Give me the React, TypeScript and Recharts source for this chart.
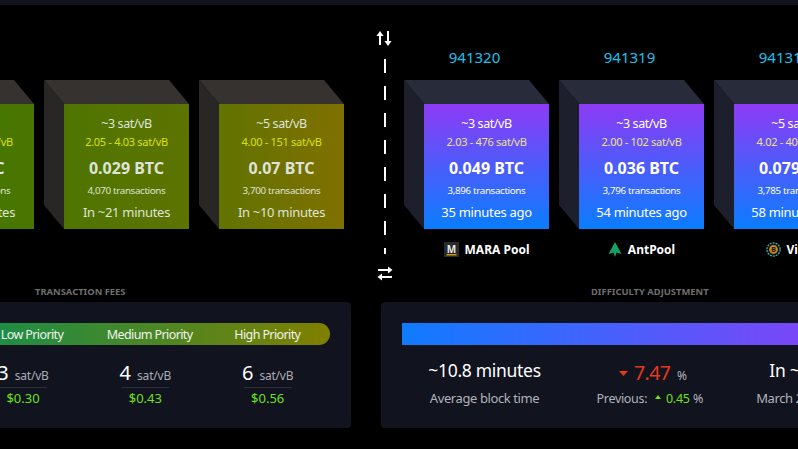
import { Bar, BarChart, XAxis, YAxis } from 'recharts'

const FONT = '"Noto Sans", sans-serif'

// pending blocks, left of the divider
const pendingFee = ['~3 sat/vB', '~3 sat/vB', '~5 sat/vB']
const pendingRange = ['2.00 - 3.04 sat/vB', '2.05 - 4.03 sat/vB', '4.00 - 151 sat/vB']
const pendingBtc = ['0.02 BTC', '0.029 BTC', '0.07 BTC']
const pendingTx = ['4,012 transactions', '4,070 transactions', '3,700 transactions']
const pendingEta = ['In ~32 minutes', 'In ~21 minutes', 'In ~10 minutes']

// mined blocks, right of the divider
const minedHeight = ['941320', '941319', '941318']
const minedFee = ['~3 sat/vB', '~3 sat/vB', '~5 sat/vB']
const minedRange = ['2.03 - 476 sat/vB', '2.00 - 102 sat/vB', '4.02 - 400 sat/vB']
const minedBtc = ['0.049 BTC', '0.036 BTC', '0.079 BTC']
const minedTx = ['3,896 transactions', '3,796 transactions', '3,785 transactions']
const minedAge = ['35 minutes ago', '54 minutes ago', '58 minutes ago']
const minedPool = ['MARA Pool', 'AntPool', 'ViaBTC']

// fee panel
const priorityNames = ['Low Priority', 'Medium Priority', 'High Priority']
const prioritySats = [3, 4, 6]
const priorityUsd = ['$0.30', '$0.43', '$0.56']

// difficulty panel
const difficultyProgress = 100
const difficultyHeadline = ['~10.8 minutes', '7.47', 'In ~10 days']
const difficultyCaption = ['Average block time', '0.45', 'March 28 at 5:00 PM']

const pendingData = pendingFee.map((fee, i) => ({
  name: pendingEta[i],
  size: 1,
  fee,
  range: pendingRange[i],
  btc: pendingBtc[i],
  tx: pendingTx[i],
  time: pendingEta[i],
}))

const minedData = minedFee.map((fee, i) => ({
  name: minedHeight[i],
  size: 1,
  fee,
  range: minedRange[i],
  btc: minedBtc[i],
  tx: minedTx[i],
  time: minedAge[i],
  height: minedHeight[i],
  pool: minedPool[i],
}))

const priorityData = priorityNames.map((name, i) => ({
  name,
  size: 1,
  sats: prioritySats[i],
  usd: priorityUsd[i],
}))

const difficultyData = difficultyHeadline.map((headline, i) => ({
  name: headline,
  size: 1,
  caption: difficultyCaption[i],
}))

function PoolIcon({ pool }: { pool: string }) {
  if (pool === 'MARA Pool') {
    return (
      <svg width="15" height="15" viewBox="0 0 15 15">
        <rect width="15" height="15" fill="#2a2a2a" />
        <text x="7.5" y="10.5" textAnchor="middle" fontSize="10" fill="#e8e8e8" fontFamily={FONT}>M</text>
        <rect x="2.5" y="12" width="10" height="1.5" fill="#c9941a" />
      </svg>
    )
  }
  if (pool === 'AntPool') {
    return (
      <svg width="14" height="15" viewBox="0 0 14 15">
        <path d="M7 0 L13.5 12 L8.5 10.5 L7 15 L5.5 10.5 L0.5 12 Z" fill="#12a36b" />
      </svg>
    )
  }
  return (
    <svg width="15" height="15" viewBox="0 0 15 15">
      <circle cx="7.5" cy="7.5" r="6.6" fill="#111" stroke="#3aa7a0" strokeWidth="1.4" strokeDasharray="2 1" />
      <circle cx="7.5" cy="7.5" r="4.4" fill="#c98a1c" />
      <text x="7.5" y="10" textAnchor="middle" fontSize="7" fontWeight="700" fill="#111" fontFamily={FONT}>B</text>
    </svg>
  )
}

function BlockShape(props: any) {
  const { x, y, width, height, payload } = props
  const mined = !!payload.pool
  const cx = x + width / 2
  const depthX = 20
  const depthY = 24
  return (
    <g fontFamily={FONT} textAnchor="middle" fill={mined ? '#ffffff' : '#dfe3da'}>
      <polygon
        points={`${x},${y} ${x + width},${y} ${x + width - depthX},${y - depthY} ${x - depthX},${y - depthY}`}
        fill={mined ? '#272b3a' : '#36322f'}
      />
      <polygon
        points={`${x},${y} ${x},${y + height} ${x - depthX},${y + height - depthY} ${x - depthX},${y - depthY}`}
        fill={mined ? '#1d202c' : '#292725'}
      />
      <rect x={x} y={y} width={width} height={height} fill={mined ? 'url(#minedFace)' : 'url(#pendingFace)'} />
      <text x={cx} y={y + 24} fontSize={12.5} letterSpacing={-0.4}>{payload.fee}</text>
      <text x={cx} y={y + 42} fontSize={11} letterSpacing={-0.3} fill={mined ? '#f0e08c' : '#dde000'}>{payload.range}</text>
      <text x={cx} y={y + 70} fontSize={16} fontWeight={700}>{payload.btc}</text>
      <text x={cx} y={y + 90} fontSize={9.8} letterSpacing={-0.35}>{payload.tx}</text>
      <text x={cx} y={y + 113} fontSize={13} letterSpacing={-0.3}>{payload.time}</text>
      {mined && (
        <text x={cx - 12} y={y - 41} fontSize={15} fill="#1ec0ee">{payload.height}</text>
      )}
      {mined && (
        <foreignObject x={cx - 77} y={y + 135} width={154} height={20}>
          <div
            style={{
              display: 'flex',
              justifyContent: 'center',
              alignItems: 'center',
              gap: 6,
              height: 20,
              fontFamily: FONT,
              fontSize: 12,
              fontWeight: 700,
              color: '#fff',
              whiteSpace: 'nowrap',
            }}
          >
            <PoolIcon pool={payload.pool} />
            <span>{payload.pool}</span>
          </div>
        </foreignObject>
      )}
    </g>
  )
}

function BlockRow({ data, left, id }: { data: any[]; left: number; id: string }) {
  return (
    <div style={{ position: 'absolute', left, top: 40 }} id={id}>
      <BarChart
        width={475}
        height={230}
        data={data}
        margin={{ top: 64, right: 0, bottom: 41, left: 10 }}
        barCategoryGap={0}
      >
        <defs>
          <linearGradient id="minedFace" x1="0" y1="0" x2="0" y2="1">
            <stop offset="0" stopColor="#8d3bf5" />
            <stop offset="1" stopColor="#0a7dff" />
          </linearGradient>
          <linearGradient id="pendingFace" gradientUnits="userSpaceOnUse" x1="25" y1="0" x2="460" y2="0">
            <stop offset="0" stopColor="#3f7700" />
            <stop offset="0.287" stopColor="#4a7600" />
            <stop offset="0.356" stopColor="#4f7500" />
            <stop offset="0.644" stopColor="#5d7300" />
            <stop offset="0.713" stopColor="#617300" />
            <stop offset="1" stopColor="#7f7000" />
          </linearGradient>
        </defs>
        <XAxis dataKey="name" hide />
        <YAxis domain={[0, 1]} hide />
        <Bar dataKey="size" barSize={125} shape={BlockShape} isAnimationActive={false} />
      </BarChart>
    </div>
  )
}

function GradientBar({ id, width, amount, from, to, radius }: any) {
  return (
    <BarChart
      width={width}
      height={22}
      data={[{ name: id, value: amount }]}
      layout="vertical"
      margin={{ top: 0, right: 0, bottom: 0, left: 0 }}
      barCategoryGap={0}
    >
      <defs>
        <linearGradient id={id} x1="0" y1="0" x2="1" y2="0">
          <stop offset="0" stopColor={from} />
          <stop offset="1" stopColor={to} />
        </linearGradient>
      </defs>
      <XAxis type="number" domain={[0, 100]} hide />
      <YAxis type="category" dataKey="name" hide />
      <Bar dataKey="value" fill={`url(#${id})`} radius={radius} isAnimationActive={false} />
    </BarChart>
  )
}

function PriorityLabel(props: any) {
  const { x, width, payload } = props
  return (
    <text x={x + width / 2} y={16} textAnchor="middle" fontFamily={FONT} fontSize={12.5} letterSpacing={-0.6} fill="#f0f3ee">
      {payload.name}
    </text>
  )
}

function FeeValue(props: any) {
  const { x, width, payload } = props
  const cx = x + width / 2
  return (
    <g fontFamily={FONT}>
      <text x={cx} y={35} textAnchor="middle" fill="#ffffff" fontSize={20}>
        {payload.sats}
        <tspan dx={6} fontSize={12} letterSpacing={-0.2} fill="#a9acb5">sat/vB</tspan>
      </text>
      <line x1={cx - 24} x2={cx + 24} y1={42.5} y2={42.5} stroke="#2b2e3b" />
      <text x={cx} y={58} textAnchor="middle" fill="#6ee01e" fontSize={13}>{payload.usd}</text>
    </g>
  )
}

function DifficultyStat(props: any) {
  const { x, width, payload, index } = props
  const cx = x + width / 2
  return (
    <g fontFamily={FONT}>
      {index === 1 ? (
        <>
          <polygon points={`${cx - 30.5},${26} ${cx - 21.5},${26} ${cx - 26},${31}`} fill="#e5391c" />
          <text x={cx - 15.5} y={35} fontSize={19.5} letterSpacing={-0.6} fill="#e5391c">{payload.name}</text>
          <text x={cx + 27.5} y={35} fontSize={12} fill="#b0b3bc">%</text>
          <text x={cx - 53} y={58} fontSize={12.5} letterSpacing={-0.3} fill="#b0b3bc">Previous:</text>
          <polygon points={`${cx + 5.5},${54} ${cx + 11.5},${54} ${cx + 8.5},${50}`} fill="#6ee01e" />
          <text x={cx + 16.5} y={58} fontSize={12.5} letterSpacing={-0.3} fill="#6ee01e">{payload.caption}</text>
          <text x={cx + 43.5} y={58} fontSize={12.5} fill="#b0b3bc">%</text>
        </>
      ) : (
        <g textAnchor="middle">
          <text x={cx} y={32} fontSize={17.5} letterSpacing={-0.3} fill="#ffffff">{payload.name}</text>
          <text x={cx} y={58} fontSize={13} letterSpacing={-0.4} fill="#b0b3bc">{payload.caption}</text>
        </g>
      )}
    </g>
  )
}

function TextColumns({ data, left, top, width, height, shape }: any) {
  return (
    <div style={{ position: 'absolute', left, top }}>
      <BarChart
        width={width}
        height={height}
        data={data}
        margin={{ top: 0, right: 0, bottom: 0, left: 0 }}
        barCategoryGap={0}
      >
        <XAxis dataKey="name" hide />
        <YAxis domain={[0, 1]} hide />
        <Bar dataKey="size" shape={shape} isAnimationActive={false} />
      </BarChart>
    </div>
  )
}

const panelStyle = {
  position: 'absolute',
  top: 302,
  height: 126,
  background: '#11131e',
  borderRadius: 4,
} as const

const titleStyle = {
  position: 'absolute',
  top: 285,
  fontFamily: FONT,
  fontSize: 9.4,
  fontWeight: 700,
  color: '#6e6e6e',
  whiteSpace: 'nowrap',
} as const

export default function App() {
  return (
    <div
      style={{
        position: 'absolute',
        left: 0,
        top: 0,
        width: 798,
        height: 449,
        overflow: 'hidden',
        background: '#000',
      }}
    >
      <div style={{ position: 'absolute', left: 0, top: 0, width: 798, height: 5, background: '#11131e' }} />

      <BlockRow data={pendingData} left={-116} id="pending" />
      <BlockRow data={minedData} left={399} id="mined" />

      <svg width="30" height="260" style={{ position: 'absolute', left: 370, top: 28 }}>
        <line x1="15" x2="15" y1="31" y2="226" stroke="#fff" strokeWidth="2" strokeDasharray="14 13" />
        <g stroke="#fff" strokeWidth="2" fill="none">
          <path d="M10 7 V17" />
          <path d="M18 3 V13" />
          <path d="M8 242 H18" />
          <path d="M12 249 H22" />
        </g>
        <g fill="#fff">
          <polygon points="6.5,8 13.5,8 10,3" />
          <polygon points="14.5,13 21.5,13 18,18" />
          <polygon points="18,238.5 18,245.5 22.5,242" />
          <polygon points="12,245.5 12,252.5 7.5,249" />
        </g>
      </svg>

      <div style={{ ...titleStyle, left: 35 }}>TRANSACTION FEES</div>
      <div style={{ ...titleStyle, left: 591 }}>DIFFICULTY ADJUSTMENT</div>

      <div style={{ ...panelStyle, left: -60, width: 411 }} />
      <div style={{ ...panelStyle, left: 381, width: 480 }} />

      <div style={{ position: 'absolute', left: -50, top: 323 }}>
        <GradientBar id="feeRibbon" width={380} amount={100} from="#0f8f4f" to="#807f00" radius={[0, 11, 11, 0]} />
      </div>
      <div style={{ position: 'absolute', left: 402, top: 323 }}>
        <GradientBar id="difficultyBar" width={460} amount={difficultyProgress} from="#0f7bff" to="#8a3ff6" radius={0} />
      </div>

      <TextColumns data={priorityData} left={-27} top={323} width={353} height={22} shape={PriorityLabel} />
      <TextColumns data={priorityData} left={-38} top={345} width={367} height={65} shape={FeeValue} />
      <TextColumns data={difficultyData} left={402} top={345} width={495} height={65} shape={DifficultyStat} />
    </div>
  )
}
